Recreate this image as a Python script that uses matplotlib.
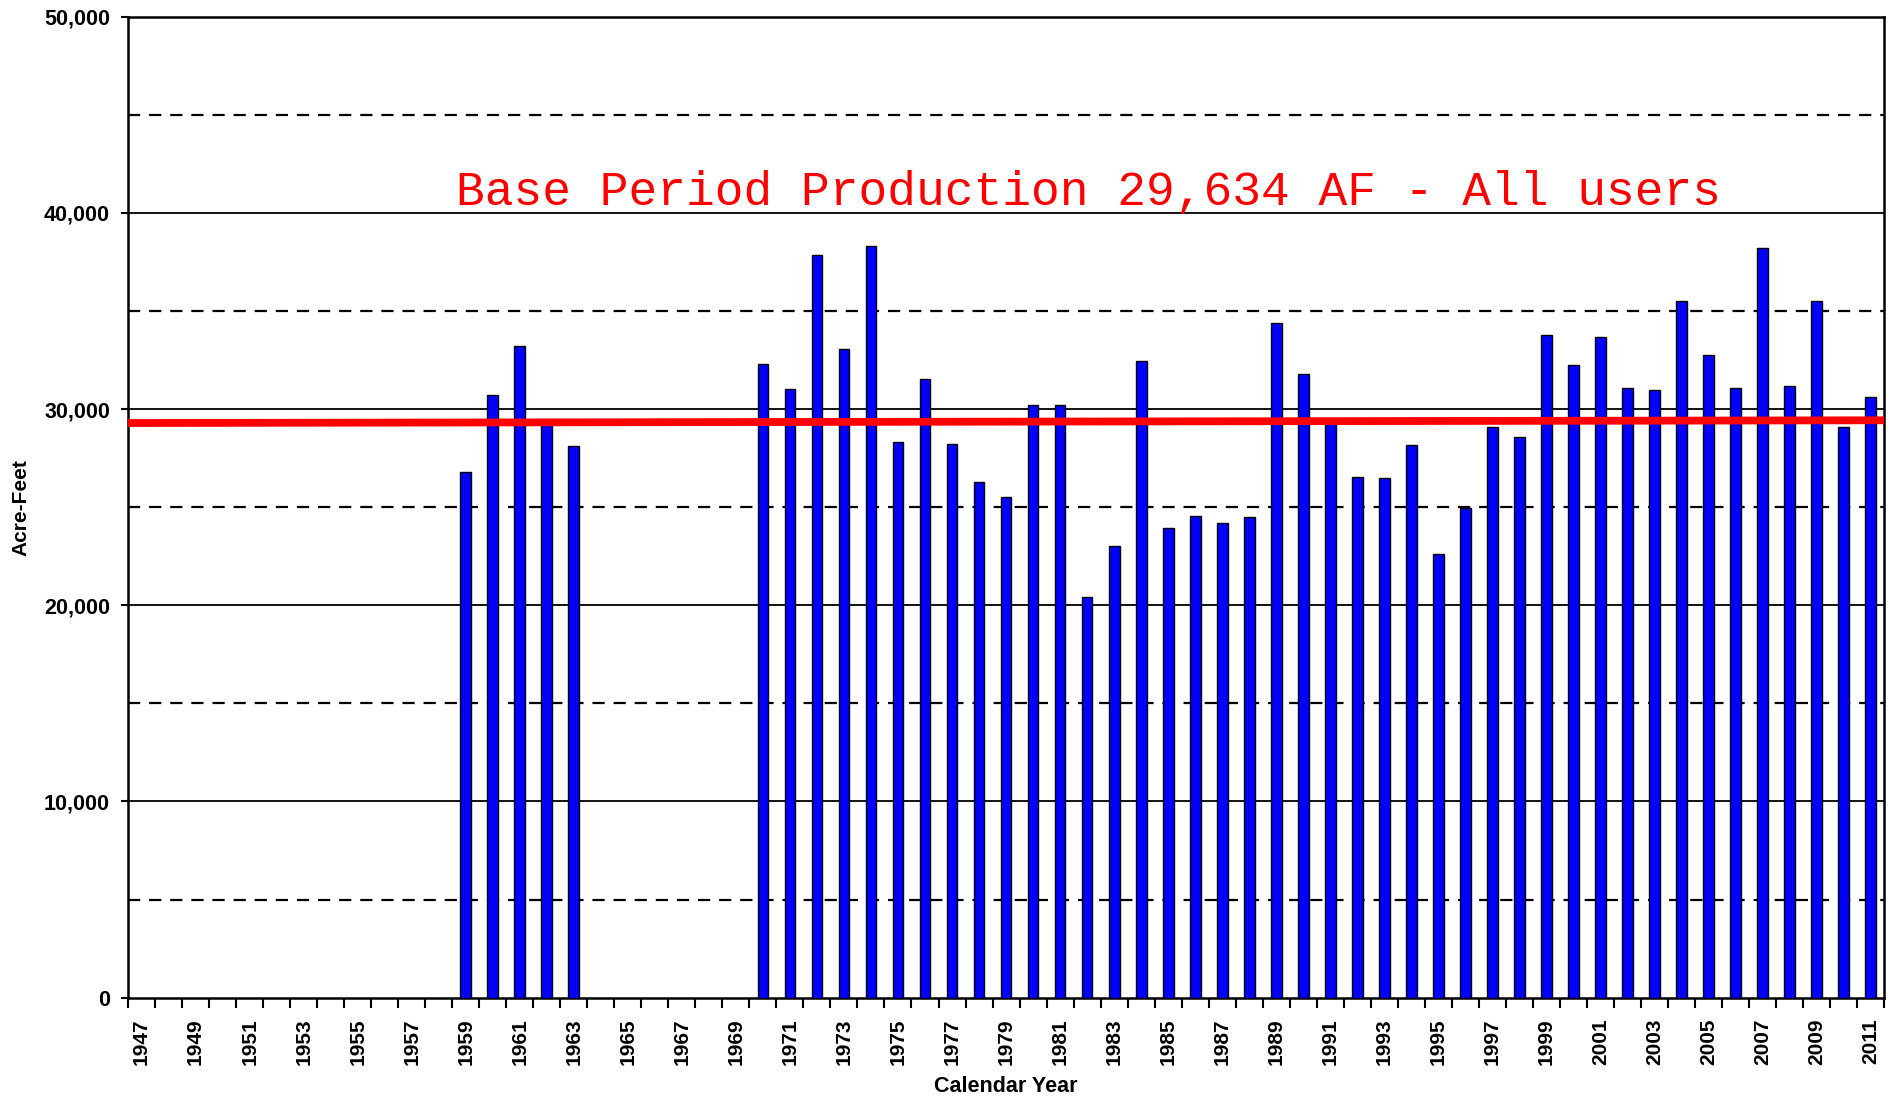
import matplotlib
matplotlib.use("Agg")
import matplotlib.pyplot as plt
import numpy as np
from matplotlib.ticker import FuncFormatter

# annual groundwater production, acre-feet (no record for 1947-1958, 1964-1969)
years = list(range(1947, 2012))
production = {
    1959: 26800, 1960: 30700, 1961: 33200, 1962: 29300, 1963: 28100,
    1970: 32300, 1971: 31000, 1972: 37850, 1973: 33050, 1974: 38300,
    1975: 28300, 1976: 31550, 1977: 28200, 1978: 26300, 1979: 25500,
    1980: 30200, 1981: 30200, 1982: 20400, 1983: 23000, 1984: 32450,
    1985: 23950, 1986: 24550, 1987: 24200, 1988: 24500, 1989: 34400,
    1990: 31800, 1991: 29300, 1992: 26550, 1993: 26500, 1994: 28150,
    1995: 22600, 1996: 24950, 1997: 29100, 1998: 28600, 1999: 33800,
    2000: 32250, 2001: 33650, 2002: 31050, 2003: 30950, 2004: 35500,
    2005: 32750, 2006: 31050, 2007: 38200, 2008: 31200, 2009: 35500,
    2010: 29100, 2011: 30600,
}

# base period line, left and right end values
base_line = [29290, 29430]
base_text = "Base Period Production 29,634 AF - All users"

major_y = [0, 10000, 20000, 30000, 40000, 50000]
dashed_y = [5000, 15000, 25000, 35000, 45000]

plt.rcParams["font.family"] = ["Liberation Sans", "DejaVu Sans"]

fig = plt.figure(figsize=(19, 10.99), dpi=100)
ax = fig.add_axes([0.0674, 0.0922, 0.9242, 0.8926])

x = np.arange(len(years))
have = [i for i, y in enumerate(years) if y in production]
ax.bar([x[i] for i in have], [production[years[i]] for i in have], width=0.4,
       color="#0000FF", edgecolor="black", linewidth=1.0, zorder=3)

for v in major_y[1:]:
    ax.axhline(v, color="black", lw=1.3, zorder=1)
for v in dashed_y:
    ax.axhline(v, color="black", lw=1.6, ls=(0, (5.5, 4)), zorder=1)

ax.plot([-0.5, len(years) - 0.5], base_line, color="#FF0000", lw=5.6,
        solid_capstyle="butt", zorder=4)

ax.text(0.1865, 0.808, base_text, transform=ax.transAxes, color="#FF0000",
        fontsize=34.5, family=["Liberation Mono", "DejaVu Sans Mono"],
        ha="left", va="baseline", zorder=5)

ax.set_xlim(-0.5, len(years) - 0.5)
ax.set_ylim(0, 50000)

# tick marks on category boundaries, labels on every other year
ax.set_xticks(np.arange(-0.5, len(years), 1.0))
ax.set_xticklabels([])
ax.set_xticks(x[::2], minor=True)
ax.set_xticklabels([str(y) for y in years[::2]], minor=True, rotation=90,
                   fontsize=15, fontweight="bold")
ax.tick_params(axis="x", which="major", length=7, width=1.5, direction="out")
ax.tick_params(axis="x", which="minor", length=0, pad=15)

ax.set_yticks(major_y)
ax.yaxis.set_major_formatter(FuncFormatter(lambda v, p: f"{int(v):,}"))
for lab in ax.get_yticklabels():
    lab.set_fontweight("bold")
    lab.set_fontsize(15.5)
ax.tick_params(axis="y", length=5, width=1.5, pad=8)

for s in ax.spines.values():
    s.set_linewidth(1.8)
    s.set_color("black")

ax.set_ylabel("Acre-Feet", fontsize=15, fontweight="bold", labelpad=10)
ax.set_xlabel("Calendar Year", fontsize=15.5, fontweight="bold", labelpad=8)

fig.savefig("out.png", dpi=100, facecolor="white")
